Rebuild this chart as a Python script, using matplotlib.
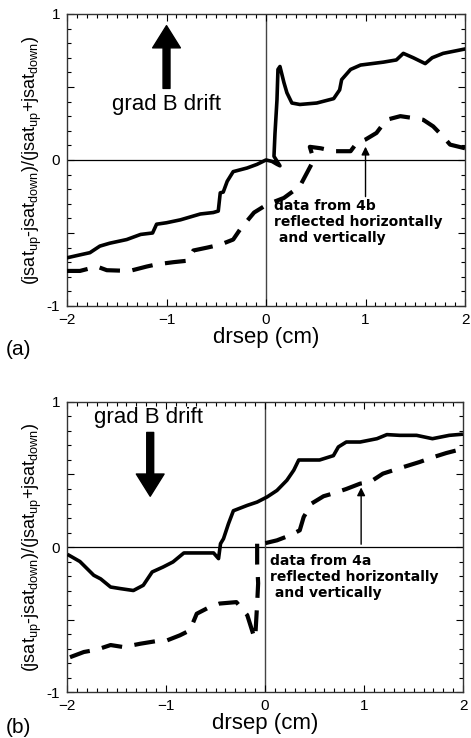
import matplotlib
matplotlib.use("Agg")
import matplotlib.pyplot as plt
from matplotlib.ticker import MultipleLocator, FixedLocator, FixedFormatter

plt.rcParams['font.family'] = ['Liberation Sans', 'DejaVu Sans']
plt.rcParams['mathtext.fontset'] = 'custom'
plt.rcParams['mathtext.rm'] = 'Liberation Sans'
plt.rcParams['mathtext.it'] = 'Liberation Sans'

# ---- Panel (a) data ----
a_solid_x = [-2.0, -1.87, -1.77, -1.67, -1.57, -1.40, -1.26, -1.14, -1.10, -1.0, -0.86, -0.66,
             -0.53, -0.48, -0.46, -0.43, -0.39, -0.33, -0.19, -0.09, 0.0, 0.06, 0.11, 0.14,
             0.08, 0.09, 0.11, 0.12, 0.14, 0.18, 0.21, 0.26, 0.34, 0.51, 0.68, 0.74, 0.76,
             0.85, 0.95, 1.18, 1.31, 1.38, 1.48, 1.60, 1.67, 1.78, 2.0]
a_solid_y = [-0.67, -0.65, -0.635, -0.59, -0.57, -0.545, -0.51, -0.50, -0.44, -0.43, -0.41, -0.37,
             -0.36, -0.35, -0.225, -0.22, -0.146, -0.08, -0.055, -0.03, 0.0, -0.01, -0.03, -0.04,
             0.025, 0.18, 0.41, 0.62, 0.64, 0.53, 0.46, 0.39, 0.38, 0.39, 0.42, 0.48, 0.55,
             0.62, 0.65, 0.67, 0.685, 0.73, 0.70, 0.66, 0.70, 0.73, 0.76]
a_dash_x = [-2.0, -1.87, -1.70, -1.60, -1.37, -1.2, -1.10, -0.93, -0.79, -0.73, -0.59, -0.46,
            -0.33, -0.26, -0.12, 0.01, 0.18, 0.34, 0.41, 0.48, 0.44, 0.55, 0.68, 0.85, 0.91,
            1.0, 1.11, 1.21, 1.35, 1.45, 1.58, 1.68, 1.78, 1.85, 2.0]
a_dash_y = [-0.76, -0.76, -0.73, -0.755, -0.76, -0.73, -0.715, -0.70, -0.69, -0.62, -0.60, -0.58,
            -0.545, -0.475, -0.36, -0.305, -0.26, -0.18, -0.09, 0.0, 0.09, 0.08, 0.06, 0.06, 0.115,
            0.14, 0.185, 0.275, 0.30, 0.29, 0.275, 0.23, 0.16, 0.105, 0.08]

# ---- Panel (b) data ----
b_solid_x = [-1.98, -1.87, -1.73, -1.66, -1.56, -1.46, -1.33, -1.23, -1.14, -1.03, -0.93, -0.82,
             -0.66, -0.52, -0.47, -0.45, -0.42, -0.37, -0.32, -0.18, -0.08, 0.02, 0.12, 0.22,
             0.29, 0.34, 0.55, 0.69, 0.74, 0.82, 0.96, 1.13, 1.23, 1.36, 1.53, 1.69, 1.86, 1.98]
b_solid_y = [-0.057, -0.10, -0.195, -0.22, -0.276, -0.287, -0.30, -0.264, -0.172, -0.138, -0.103, -0.041,
             -0.041, -0.041, -0.08, 0.023, 0.057, 0.16, 0.25, 0.287, 0.31, 0.345, 0.39, 0.46,
             0.53, 0.60, 0.60, 0.63, 0.69, 0.724, 0.724, 0.747, 0.775, 0.77, 0.77, 0.747, 0.77, 0.777]
b_dash_x = [-1.97, -1.83, -1.70, -1.56, -1.43, -1.26, -1.09, -0.99, -0.86, -0.76, -0.69, -0.56,
            -0.46, -0.29, -0.18, -0.12, -0.10, -0.08, -0.07, -0.08, -0.08, -0.08, -0.02, 0.12,
            0.25, 0.35, 0.39, 0.47, 0.59, 0.69, 0.82, 0.96, 1.06, 1.19, 1.39, 1.56, 1.70, 1.83, 2.0]
b_dash_y = [-0.76, -0.724, -0.708, -0.676, -0.69, -0.667, -0.648, -0.644, -0.609, -0.575, -0.46, -0.414,
            -0.39, -0.38, -0.47, -0.60, -0.63, -0.39, -0.25, -0.115, -0.07, 0.046, 0.023, 0.046,
            0.08, 0.115, 0.207, 0.30, 0.35, 0.37, 0.40, 0.437, 0.448, 0.506, 0.55, 0.586, 0.62, 0.648, 0.678]

ylabel = r'(jsat$_{\mathrm{up}}$-jsat$_{\mathrm{down}}$)/(jsat$_{\mathrm{up}}$+jsat$_{\mathrm{down}}$)'

fig = plt.figure(figsize=(4.71, 7.38), dpi=100)
ax_a = fig.add_axes([0.1423, 0.5854, 0.845, 0.3957])
ax_b = fig.add_axes([0.1423, 0.0623, 0.841, 0.393])

def style(ax):
    ax.set_xlim(-2, 2)
    ax.set_ylim(-1, 1)
    ax.axhline(0, color='black', lw=0.9, zorder=1)
    ax.axvline(0, color='#444444', lw=1.0, zorder=1)
    ax.xaxis.set_major_locator(MultipleLocator(1))
    ax.xaxis.set_minor_locator(MultipleLocator(0.1))
    ax.yaxis.set_major_locator(FixedLocator([-1, -0.5, 0, 0.5, 1]))
    ax.yaxis.set_major_formatter(FixedFormatter(['-1', '', '0', '', '1']))
    ax.yaxis.set_minor_locator(MultipleLocator(0.1))
    ax.tick_params(which='both', direction='in', top=True, right=True, labelsize=11, width=0.8)
    ax.tick_params(which='major', length=5, pad=5)
    ax.tick_params(which='minor', length=3)
    for s in ax.spines.values():
        s.set_linewidth(1.0)
        s.set_color('#333333')
    ax.set_xlabel('drsep (cm)', fontsize=16, labelpad=0)
    ax.set_ylabel(ylabel, fontsize=13, labelpad=2)

dash = (0, (5, 3))

# Panel (a)
style(ax_a)
ax_a.plot(a_solid_x, a_solid_y, color='black', lw=2.6, zorder=3, solid_joinstyle='round')
ax_a.plot(a_dash_x, a_dash_y, color='black', lw=3, linestyle=dash, zorder=3)
ax_a.annotate('', xy=(-1.0, 0.92), xytext=(-1.0, 0.49),
              arrowprops=dict(facecolor='black', edgecolor='black', width=5, headwidth=20, headlength=16))
ax_a.text(-1.0, 0.38, 'grad B drift', fontsize=16, ha='center', va='center')
ax_a.annotate('', xy=(1.0, 0.11), xytext=(1.0, -0.27),
              arrowprops=dict(arrowstyle='-|>', color='black', lw=1.0, mutation_scale=12))
ax_a.text(0.08, -0.27, 'data from 4b\nreflected horizontally\n and vertically',
          family='DejaVu Sans', fontweight='bold', fontsize=10, ha='left', va='top', linespacing=1.15)
fig.text(0.012, 0.527, '(a)', fontsize=15, ha='left', va='center')

# Panel (b)
style(ax_b)
ax_b.plot(b_solid_x, b_solid_y, color='black', lw=2.6, zorder=3, solid_joinstyle='round')
ax_b.plot(b_dash_x, b_dash_y, color='black', lw=3, linestyle=dash, zorder=3)
ax_b.annotate('', xy=(-1.16, 0.35), xytext=(-1.16, 0.79),
              arrowprops=dict(facecolor='black', edgecolor='black', width=5, headwidth=20, headlength=16))
ax_b.text(-1.18, 0.89, 'grad B drift', fontsize=16, ha='center', va='center')
ax_b.annotate('', xy=(0.97, 0.43), xytext=(0.97, 0.0),
              arrowprops=dict(arrowstyle='-|>', color='black', lw=1.0, mutation_scale=12))
ax_b.text(0.05, -0.05, 'data from 4a\nreflected horizontally\n and vertically',
          family='DejaVu Sans', fontweight='bold', fontsize=10, ha='left', va='top', linespacing=1.15)
fig.text(0.012, 0.014, '(b)', fontsize=15, ha='left', va='center')

fig.savefig('out.png', dpi=100)
